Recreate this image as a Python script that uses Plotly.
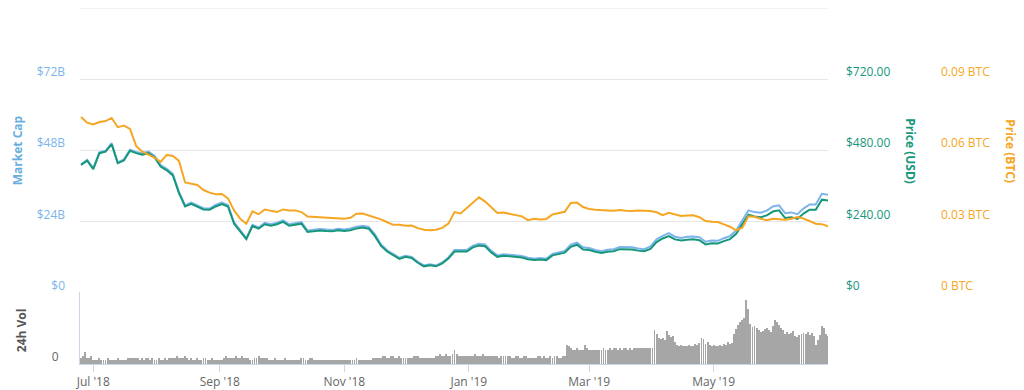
import plotly.graph_objects as go
import pandas as pd

# ---- data ----
dates = pd.date_range('2018-06-25', periods=123, freq='3D')

price_usd = [
    430, 445, 416, 470, 475, 500, 436, 445, 478, 470,
    465, 470, 456, 425, 412, 395, 335, 290, 299, 290,
    280, 279, 290, 298, 290, 232, 207, 180, 224, 215,
    230, 225, 230, 238, 225, 228, 232, 204, 206, 209,
    207, 206, 210, 207, 210, 216, 219, 215, 190, 157,
    138, 125, 113, 120, 116, 100, 88, 92, 88, 98,
    114, 138, 138, 138, 152, 158, 156, 135, 120, 124,
    122, 120, 118, 112, 109, 111, 109, 125, 129, 134,
    154, 161, 145, 143, 137, 133, 137, 139, 146, 146,
    145, 141, 139, 147, 170, 182, 190, 179, 175, 178,
    179, 176, 162, 166, 165, 173, 180, 198, 230, 262,
    256, 254, 260, 273, 277, 251, 254, 248, 266, 279,
    279, 313, 310,
]

price_btc = [
    .0740, .0716, .0709, .0719, .0723, .0736, .0697, .0704, .0690, .0618,
    .0594, .0580, .0569, .0551, .0580, .0576, .0555, .0464, .0460, .0453,
    .0432, .0421, .0414, .0415, .0397, .0346, .0311, .0290, .0342, .0330,
    .0350, .0343, .0339, .0350, .0346, .0346, .0339, .0320, .0318, .0318,
    .0317, .0315, .0311, .0311, .0315, .0332, .0333, .0325, .0317, .0308,
    .0296, .0285, .0285, .0281, .0282, .0271, .0264, .0262, .0264, .0272,
    .0290, .0339, .0333, .0357, .0381, .0401, .0383, .0357, .0335, .0337,
    .0332, .0326, .0321, .0305, .0311, .0308, .0310, .0329, .0335, .0340,
    .0377, .0379, .0360, .0352, .0349, .0349, .0346, .0345, .0348, .0345,
    .0343, .0346, .0346, .0343, .0338, .0326, .0336, .0328, .0322, .0324,
    .0325, .0317, .0301, .0298, .0297, .0287, .0277, .0262, .0273, .0321,
    .0319, .0311, .0305, .0311, .0310, .0307, .0311, .0318, .0312, .0300,
    .0290, .0288, .0279,
]

market_cap_bn = [
    43.2, 44.7, 41.9, 47.3, 47.8, 50.4, 43.9, 44.9, 48.2, 47.4,
    47.0, 47.5, 46.1, 43.0, 41.7, 40.0, 33.9, 29.4, 30.3, 29.4,
    28.4, 28.3, 29.5, 30.3, 29.5, 23.6, 21.1, 18.3, 22.8, 21.9,
    23.5, 23.0, 23.5, 24.3, 23.0, 23.3, 23.7, 20.9, 21.1, 21.4,
    21.2, 21.1, 21.5, 21.2, 21.6, 22.2, 22.5, 22.1, 19.6, 16.2,
    14.2, 12.9, 11.7, 12.4, 12.0, 10.3, 9.1, 9.5, 9.1, 10.1,
    11.8, 14.3, 14.3, 14.3, 15.8, 16.4, 16.2, 14.0, 12.5, 12.9,
    12.7, 12.5, 12.3, 11.7, 11.4, 11.6, 11.4, 13.0, 13.5, 14.0,
    16.1, 16.8, 15.2, 15.0, 14.3, 13.9, 14.4, 14.6, 15.3, 15.3,
    15.2, 14.8, 14.6, 15.5, 17.9, 19.1, 20.0, 18.8, 18.4, 18.8,
    18.9, 18.6, 17.1, 17.5, 17.4, 18.3, 19.0, 20.9, 24.4, 27.7,
    27.1, 26.9, 27.6, 29.0, 29.4, 26.7, 27.0, 26.4, 28.3, 29.7,
    29.7, 33.3, 33.0,
]

vol_dates = pd.date_range('2018-06-25', periods=367, freq='D')

volume_bn = [
    # Jun 25 - Jul 1 2018
    1.3, 1.8, 3.0, 1.5, 1.3, 1.8, 1.0,
    # Jul
    1.0, 1.0, 1.3, 1.0, 0.8, 1.0, 1.3, 1.0, 1.0, 0.8,
    1.0, 1.3, 1.0, 1.0, 0.8, 1.0, 1.5, 1.3, 1.3, 1.5,
    1.5, 1.3, 1.0, 1.3, 1.0, 1.5, 1.3, 1.0, 1.3, 1.0,
    # Aug
    1.0, 1.3, 1.0, 1.0, 1.3, 1.0, 1.3, 1.5, 1.3, 1.5,
    1.8, 1.5, 1.3, 1.5, 1.8, 1.3, 1.0, 1.3, 1.0, 1.0,
    1.3, 1.0, 1.0, 1.3, 1.3, 1.0, 1.0, 1.3, 1.0, 1.0, 1.0,
    # Sep
    1.0, 1.0, 1.3, 1.8, 1.5, 1.5, 1.3, 1.5, 1.8, 1.3,
    1.5, 1.8, 1.5, 1.3, 1.3, 1.0, 1.0, 1.3, 1.5, 1.8,
    1.3, 1.3, 1.5, 1.3, 1.0, 1.0, 1.0, 1.3, 1.0, 1.0,
    # Oct
    1.0, 1.0, 1.3, 1.0, 1.0, 0.8, 0.8, 1.0, 1.0, 1.0,
    1.3, 1.5, 1.0, 1.0, 1.5, 1.3, 1.0, 1.0, 0.8, 0.8,
    0.8, 0.8, 0.8, 0.8, 1.0, 0.8, 0.8, 0.8, 0.8, 0.8, 1.0,
    # Nov
    0.8, 0.8, 1.0, 1.0, 1.0, 1.0, 1.3, 1.0, 1.0, 1.0,
    0.8, 0.8, 0.8, 1.0, 1.3, 1.5, 1.3, 1.3, 1.5, 1.8,
    1.8, 1.5, 1.5, 1.8, 2.0, 1.5, 1.5, 1.8, 1.5, 1.3,
    # Dec
    1.3, 1.3, 1.5, 1.5, 1.8, 2.0, 1.8, 1.5, 1.3, 1.5,
    1.3, 1.3, 1.5, 1.3, 1.5, 1.8, 1.8, 2.3, 2.0, 2.0,
    2.3, 2.0, 2.0, 2.5, 3.3, 2.3, 2.0, 1.8, 2.0, 1.8, 1.8,
    # Jan 2019
    1.8, 1.8, 2.0, 2.3, 2.0, 2.0, 1.8, 2.3, 2.0, 2.0,
    1.8, 1.8, 2.0, 1.8, 1.8, 1.5, 2.0, 1.8, 1.8, 2.0,
    1.8, 1.5, 1.5, 1.8, 1.8, 1.5, 1.5, 1.8, 1.8, 1.5, 1.5,
    # Feb
    1.5, 1.5, 1.5, 1.8, 1.8, 1.5, 1.8, 1.5, 1.5, 1.8,
    1.5, 1.8, 1.8, 1.5, 1.5, 2.0, 1.8,
    4.8, 4.3, 3.8, 3.5, 3.3, 3.8, 3.3, 3.3, 3.5, 4.8, 3.8,
    # Mar
    3.3, 3.5, 3.3, 3.5, 3.5, 3.3, 3.5, 3.8, 3.5, 3.5,
    3.8, 3.5, 3.8, 3.8, 3.5, 3.8, 3.5, 3.8, 3.8, 3.5,
    3.8, 3.5, 3.8, 4.0, 3.8, 4.0, 3.8, 3.8, 4.0, 3.8, 4.0,
    # Apr
    3.8, 8.5, 7.5, 6.5, 6.3, 6.5, 6.0, 8.3, 7.3, 6.8,
    7.0, 5.5, 4.8, 4.5, 4.8, 4.3, 4.5, 4.3, 4.8, 4.5,
    4.3, 5.0, 4.8, 5.3, 6.5, 6.3, 5.0, 5.5, 4.8, 4.5,
    # May
    4.8, 4.5, 4.5, 4.8, 4.5, 5.0, 4.8, 5.5, 5.0, 5.3,
    7.5, 8.8, 9.8, 10.5, 11.0, 11.5, 16.0, 13.8,
    10.0, 9.3, 9.5, 9.0, 8.5, 8.0, 8.3, 8.8, 9.0, 8.5, 8.0, 9.5, 11.0,
    # Jun 1 - 26
    10.5, 9.8, 9.0, 8.5, 7.5, 8.0, 7.5, 7.8, 8.3, 7.0,
    6.8, 7.3, 7.5, 7.8, 7.5, 8.0, 7.3, 7.8, 7.0, 4.8,
    6.0, 7.3, 9.5, 9.0, 7.5, 7.0,
]

x_tick_vals = ['2018-07-01', '2018-09-01', '2018-11-01', '2019-01-01', '2019-03-01', '2019-05-01']
x_tick_text = ["Jul '18", "Sep '18", "Nov '18", "Jan '19", "Mar '19", "May '19"]

mcap_ticks = [0, 24, 48, 72]
mcap_text = ['$0', '$24B', '$48B', '$72B']
mcap_top = 96
usd_ticks = [0, 240, 480, 720]
usd_text = ['$0', '$240.00', '$480.00', '$720.00']
btc_ticks = [0, 0.03, 0.06, 0.09]
btc_text = ['0 BTC', '0.03 BTC', '0.06 BTC', '0.09 BTC']

# ---- styling ----
FONT = 'Open Sans'
C_MCAP = '#7cb5ec'
C_USD = '#16977a'
C_BTC = '#f5a623'
C_VOL = '#a6a6a6'
C_GRID = '#e6e6e6'
C_AXIS = '#ccd6eb'

XDOM = [0, 748 / 944]
MAIN_DOM = [72 / 358, 1]
VOL_DOM = [0, 72 / 358]
XRANGE = ['2018-06-24 12:00', '2019-06-26 00:00']
SHIFT = -7

fig = go.Figure()
fig.add_trace(go.Scatter(x=dates, y=market_cap_bn, xaxis='x', yaxis='y', mode='lines',
                         line=dict(color=C_MCAP, width=2), name='Market Cap'))
fig.add_trace(go.Scatter(x=dates, y=price_usd, xaxis='x', yaxis='y2', mode='lines',
                         line=dict(color=C_USD, width=2), name='Price (USD)'))
fig.add_trace(go.Scatter(x=dates, y=price_btc, xaxis='x', yaxis='y3', mode='lines',
                         line=dict(color=C_BTC, width=2), name='Price (BTC)'))
fig.add_trace(go.Bar(x=vol_dates, y=volume_bn, xaxis='x2', yaxis='y4',
                     marker=dict(color=C_VOL, line=dict(width=0)),
                     width=86400000 * 0.45, name='24h Vol'))

tickfont = lambda c: dict(family=FONT, size=12, color=c)

fig.update_layout(
    width=1024, height=390,
    margin=dict(l=80, r=0, t=8, b=24),
    paper_bgcolor='white', plot_bgcolor='white',
    showlegend=False,
    font=dict(family=FONT),
    bargap=0,
    xaxis=dict(domain=XDOM, anchor='y', type='date', range=XRANGE,
               showticklabels=False, showgrid=False, zeroline=False, showline=False, ticks=''),
    xaxis2=dict(domain=XDOM, anchor='y4', type='date', range=XRANGE, matches='x',
                tickvals=x_tick_vals, ticktext=x_tick_text, ticks='outside', ticklen=7,
                tickcolor=C_AXIS, showline=True, linecolor=C_AXIS, linewidth=1,
                showgrid=False, zeroline=False, tickfont=tickfont('#666666')),
    yaxis=dict(domain=MAIN_DOM, anchor='x', range=[0, mcap_top], tickvals=mcap_ticks,
               ticktext=mcap_text, showgrid=True, gridcolor=C_GRID, zeroline=False,
               showline=False, ticks='', tickfont=tickfont(C_MCAP), ticklabelshift=SHIFT,
               ticklabelstandoff=14, automargin=False),
    yaxis2=dict(overlaying='y', side='right', anchor='x', range=[0, 960], tickvals=usd_ticks,
                ticktext=usd_text, showgrid=False, zeroline=False, showline=False, ticks='',
                tickfont=tickfont(C_USD), ticklabelshift=SHIFT, ticklabelstandoff=17,
                automargin=False),
    yaxis3=dict(overlaying='y', side='right', anchor='free', position=843 / 944, range=[0, 0.12],
                tickvals=btc_ticks, ticktext=btc_text, showgrid=False, zeroline=False, showline=False,
                ticks='', tickfont=tickfont(C_BTC), ticklabelshift=SHIFT, ticklabelstandoff=17,
                automargin=False),
    yaxis4=dict(domain=VOL_DOM, anchor='x2', range=[0, 18], tickvals=[0], ticktext=['0'],
                showgrid=False, zeroline=False, showline=True, linecolor=C_AXIS, ticks='',
                tickfont=tickfont('#666666'), ticklabelshift=SHIFT, ticklabelstandoff=18,
                automargin=False),
)

# top gridline of the main pane (unlabelled)
fig.add_shape(type='line', xref='x domain', yref='y', x0=0, x1=1, y0=mcap_top, y1=mcap_top,
              line=dict(color=C_GRID, width=1), layer='below')

def ytitle(text, px_x, px_y, color, angle):
    fig.add_annotation(text=f'<b>{text}</b>', xref='paper', yref='paper',
                       x=(px_x - 80) / 944, y=(366 - px_y) / 358,
                       xanchor='center', yanchor='middle', showarrow=False, textangle=angle,
                       font=dict(family=FONT, size=12, color=color))

ytitle('Market Cap', 17, 151, '#6aaee0', -90)
ytitle('24h Vol', 21, 332, '#555555', -90)
ytitle('Price (USD)', 911, 152, C_USD, 90)
ytitle('Price (BTC)', 1011, 152, C_BTC, 90)

fig.write_html('out.html', config={'displayModeBar': False},
               post_script="document.body.style.margin='0';")
